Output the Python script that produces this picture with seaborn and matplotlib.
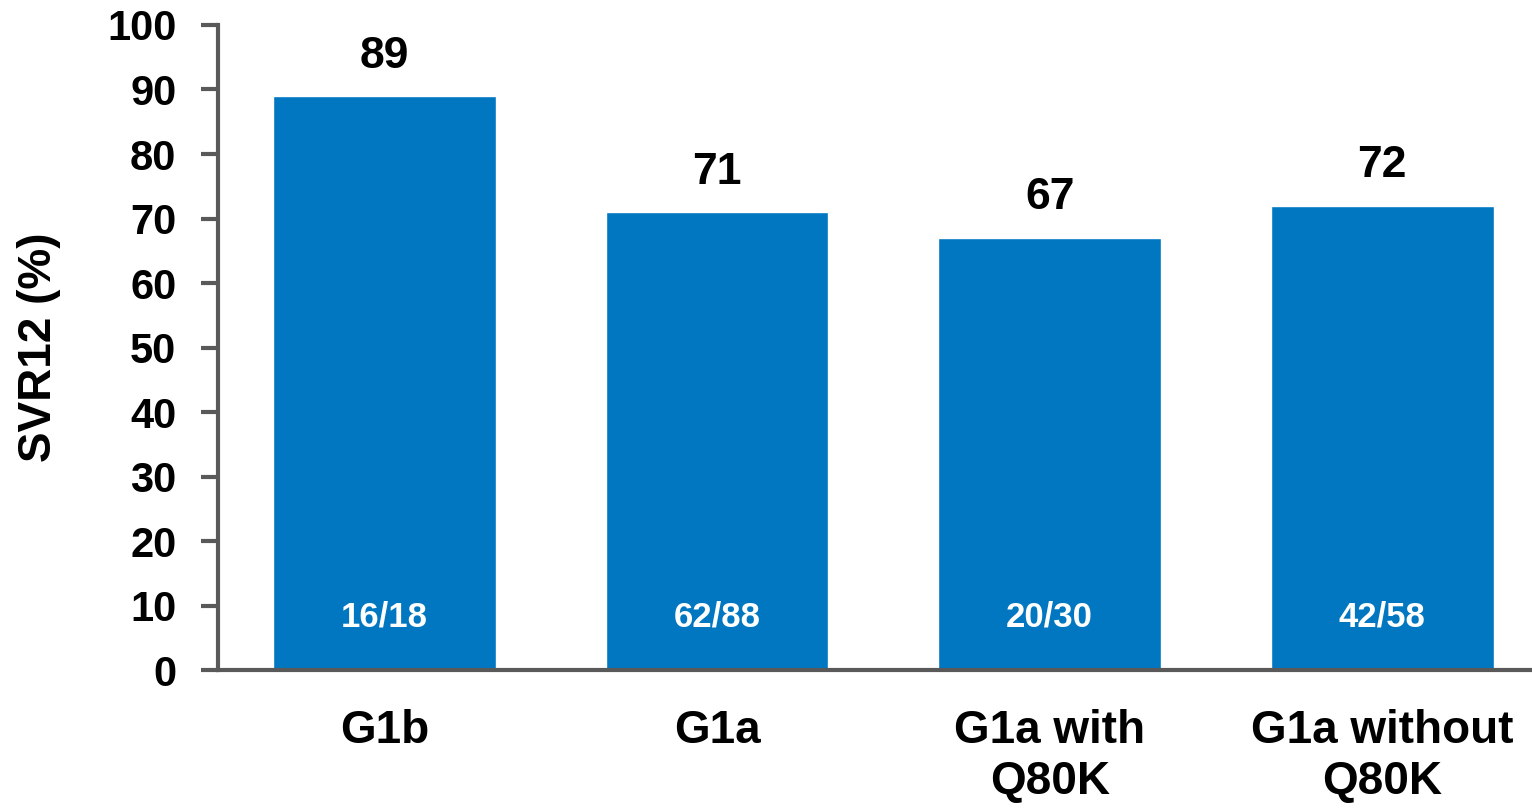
import matplotlib
matplotlib.use("Agg")
import matplotlib.pyplot as plt
import seaborn as sns
import pandas as pd

categories = ["G1b", "G1a", "G1a with\nQ80K", "G1a without\nQ80K"]
svr12 = [89, 71, 67, 72]
counts = ["16/18", "62/88", "20/30", "42/58"]
yticks = [0, 10, 20, 30, 40, 50, 60, 70, 80, 90, 100]

sns.set_style("white")
plt.rcParams["font.family"] = ["Liberation Sans", "DejaVu Sans"]
plt.rcParams["font.weight"] = "bold"
plt.rcParams["text.color"] = "black"
plt.rcParams["axes.labelcolor"] = "black"
plt.rcParams["xtick.labelcolor"] = "black"
plt.rcParams["ytick.labelcolor"] = "black"

df = pd.DataFrame({"cat": categories, "val": svr12})

fig = plt.figure(figsize=(15.32, 8.09), dpi=100)
ax = fig.add_axes([0.1423, 0.1718, 0.8577, 0.7973])
sns.barplot(data=df, x="cat", y="val", color="#0077C0", saturation=1, width=0.67, ax=ax)

ax.set_ylim(0, 100)
ax.set_xlim(-0.5, 3.45)
ax.set_yticks(yticks)
ax.set_yticklabels([str(t) for t in yticks], fontsize=30, fontweight="bold")
ax.set_xticks(range(len(categories)))
ax.set_xticklabels(categories, fontsize=33, fontweight="bold", linespacing=1.2)
ax.set_xlabel("")
ax.set_ylabel("SVR12 (%)", fontsize=33, fontweight="bold", labelpad=33)

for s in ["top", "right"]:
    ax.spines[s].set_visible(False)
for s in ["left", "bottom"]:
    ax.spines[s].set_color("#595959")
    ax.spines[s].set_linewidth(3)
ax.tick_params(axis="y", direction="out", length=12, width=3, color="#595959", pad=18, left=True)
ax.tick_params(axis="x", length=0, pad=28)

for i, (v, c) in enumerate(zip(svr12, counts)):
    ax.annotate(str(v), (i, v), xytext=(0, 14), textcoords="offset points",
                ha="center", va="bottom", fontsize=32, fontweight="bold", color="black")
    ax.text(i, 8.2, c, ha="center", va="center", fontsize=25, fontweight="bold", color="white")

fig.savefig("out.png", dpi=100)
